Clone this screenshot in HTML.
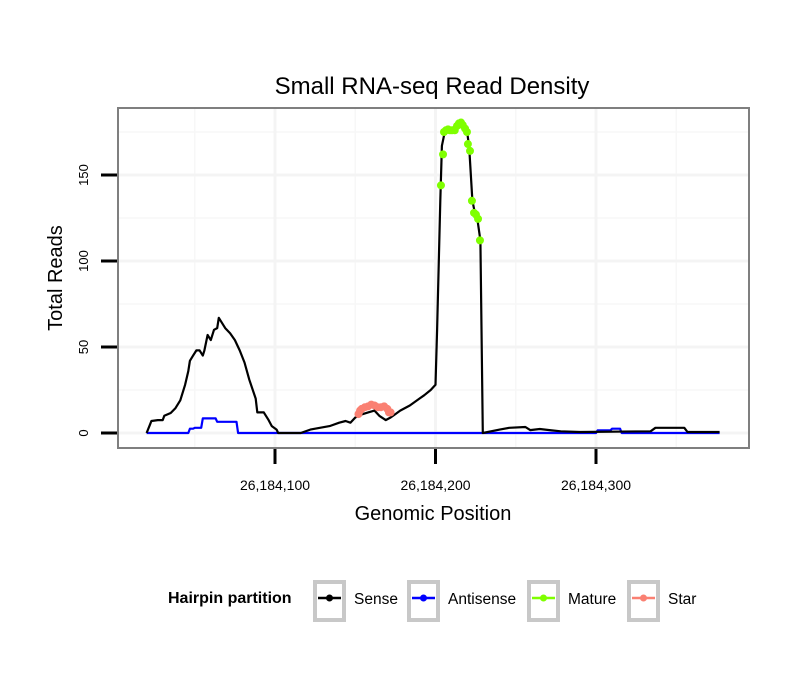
<!DOCTYPE html>
<html><head><meta charset="utf-8"><style>
body{margin:0;background:#fff}
svg{display:block;font-family:"Liberation Sans",sans-serif}
</style></head><body>
<svg id="chart" width="810" height="690" viewBox="0 0 810 690" xmlns="http://www.w3.org/2000/svg">
<text x="432" y="94" font-size="24" text-anchor="middle">Small RNA-seq Read Density</text>
<rect x="118" y="108" width="631" height="340" fill="#fff" stroke="#7f7f7f" stroke-width="2"/>
<g id="grid"></g>
<g id="series"></g>
<g id="axes"></g>
<text x="433" y="520" font-size="20" text-anchor="middle">Genomic Position</text>
<text transform="translate(62,278) rotate(-90)" font-size="20" text-anchor="middle">Total Reads</text>
<g>
<text x="168" y="603" font-size="16" font-weight="bold">Hairpin partition</text>
<g id="legend-items"></g>
</g>
</svg>
<script>
const X0 = 26184000;
const xTicks = [100, 200, 300];
const xTickLabels = ["26,184,100", "26,184,200", "26,184,300"];
const yTicks = [0, 50, 100, 150];
const sensePos = [20,22,23,27,30,31,35,38,41,44,46,47,49,51,53,55,56,58,60,62,64,65,67,69,72,75,78,81,84,88,89,93,96,98,101,102,116,122,128,134,140,144,147,150,153,158,162,165,169,172,175,178,184,190,193,197,200,201,203,204,206,209,212,215,218,220,221,223,225,226,228,229.5,240,246,256,259,265,271,278,290,334,337,355,357,377];
const senseReads = [0,4.6,7,7.5,7.5,10,11.6,14.5,19,28,36,42,45,48,48,45,48,57,54,60,61,67,64,61,58,54,48,41,31,20,12,12,7.5,4,2,0,0,2,3,4,6,7,6,9,10.5,12,13,10,7.5,9,11,13,16,20,22,25,28,60,135,167,176,177,178,180,177,173,166,135,126,125,112,0,2,3,3.5,1.7,2.3,1.7,1,0.6,1,3,3,0.6,0.6];
const antiPos = [20,46,47,49,50,54,55,63,64,76,77,300,301,309,310,315,316,377];
const antiReads = [0,0,2.5,2.5,3,3,8.5,8.5,6.5,6.5,0,0,1.5,1.5,2.5,2.5,0,0];
const maturePos = [203.4,204.7,205.3,206.5,207.8,209,210.3,212,213.4,214.6,215.9,217,218.4,219.6,220.2,221.5,222.7,224,225.2,226.5,227.7];
const matureReads = [144,162,175,176,176.5,176,176,176,178.5,180,180.5,179,177,175,168,164,135,128,127,124.5,112];
const starPos = [152,153,154,156,158,160,162,164,166,168,170,171,172];
const starReads = [11,13,14,15,15.5,16.5,16,15,15,15.5,14,12,12];
const legendNames = ["Sense","Antisense","Mature","Star"];
const legendColors = ["#000000","#0000ff","#7fff00","#fa8072"];

const NS="http://www.w3.org/2000/svg";
const xs = v => 275 + (v-100)*1.605;
const ys = v => 433 - v*1.72;
function mk(tag, attrs, parent){const e=document.createElementNS(NS,tag);for(const k in attrs)e.setAttribute(k,attrs[k]);parent.appendChild(e);return e;}
const grid=document.getElementById('grid'), series=document.getElementById('series'), axes=document.getElementById('axes');
[50,150,250,350].forEach(v=>{const l=mk('line',{x1:xs(v),x2:xs(v),y1:109,y2:447,stroke:'#f7f7f7','stroke-width':1.5},grid);

});
[25,75,125,175].forEach(v=>{const l=mk('line',{x1:119,x2:748,y1:ys(v),y2:ys(v),stroke:'#f7f7f7','stroke-width':1.5},grid);

});
xTicks.forEach((v,i)=>{const l=mk('line',{x1:xs(v),x2:xs(v),y1:109,y2:447,stroke:'#f4f4f4','stroke-width':3},grid);


const t=mk('line',{x1:xs(v),x2:xs(v),y1:449,y2:464,stroke:'#000','stroke-width':3},axes);


const tx=mk('text',{x:xs(v),y:490,'font-size':14,'text-anchor':'middle'},axes);tx.textContent=xTickLabels[i];

});
yTicks.forEach(v=>{const l=mk('line',{x1:119,x2:748,y1:ys(v),y2:ys(v),stroke:'#f4f4f4','stroke-width':3},grid);


const t=mk('line',{x1:101,x2:117,y1:ys(v),y2:ys(v),stroke:'#000','stroke-width':3},axes);


const tx=mk('text',{transform:`translate(88,${ys(v)}) rotate(-90)`,'font-size':13,'text-anchor':'middle'},axes);tx.textContent=v;

});
function line(pos,vals,color,name,w){const d=pos.map((p,i)=>(i?'L':'M')+xs(p).toFixed(1)+','+ys(vals[i]).toFixed(1)).join('');
const p=mk('path',{d:d,fill:'none',stroke:color,'stroke-width':w,'stroke-linejoin':'round'},series);

}
line(antiPos,antiReads,'#0000ff','antisense-line',2.2);
line(sensePos,senseReads,'#000000','sense-line',2.2);
line(starPos,starReads,'#fa8072','star-line',6);
function pts(pos,vals,color,name){pos.forEach((p,i)=>{const c=mk('circle',{cx:xs(p),cy:ys(vals[i]),r:4,fill:color},series);

});}
pts(starPos,starReads,'#fa8072','star-point');
pts(maturePos,matureReads,'#7fff00','mature-point');
const li=document.getElementById('legend-items');
const bx=[313,407,527,627];
legendNames.forEach((n,i)=>{const g=mk('g',{},li);


mk('rect',{x:bx[i]+2,y:582,width:29,height:38,fill:'#fff',stroke:'#c8c8c8','stroke-width':4},g);
mk('line',{x1:bx[i]+5,x2:bx[i]+28,y1:598,y2:598,stroke:legendColors[i],'stroke-width':2.5},g);
mk('circle',{cx:bx[i]+16.5,cy:598,r:3.5,fill:legendColors[i]},g);
const t=mk('text',{x:bx[i]+41,y:604,'font-size':15.5},g);t.textContent=n;});
</script>
</body></html>
